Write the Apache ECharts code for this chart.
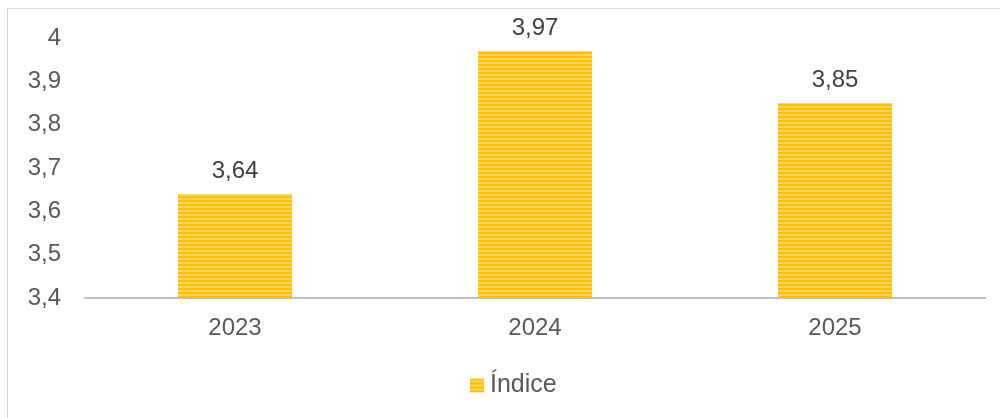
<!DOCTYPE html>
<html>
<head>
<meta charset="utf-8">
<script src="https://cdn.jsdelivr.net/npm/echarts@6/dist/echarts.min.js"></script>
<style>
  html, body { margin: 0; padding: 0; background: #fff; }
  #chart { width: 1000px; height: 418px; }
</style>
</head>
<body>
<div id="chart"></div>
<script>
// Yearly index values
const categories = ['2023', '2024', '2025'];
const indiceValues = [3.64, 3.97, 3.85];
const seriesName = 'Índice';
const yTickLabels = ['3,4', '3,5', '3,6', '3,7', '3,8', '3,9', '4'];

// Horizontal stripe fill for the bars
function stripePattern() {
  const c = document.createElement('canvas');
  c.width = 4; c.height = 4;
  const ctx = c.getContext('2d');
  ctx.fillStyle = '#FFD65A';
  ctx.fillRect(0, 0, 4, 4);
  ctx.fillStyle = '#FFC000';
  ctx.fillRect(0, 0, 4, 2);
  return c;
}
const barFill = { image: stripePattern(), repeat: 'repeat' };

const fmt = v => String(v).replace('.', ',');
const FONT = 'Liberation Sans, Arial, sans-serif';

const chart = echarts.init(document.getElementById('chart'), null, { renderer: 'canvas' });
chart.setOption({
  animation: false,
  textStyle: { fontFamily: FONT },
  graphic: [{
    type: 'rect',
    shape: { x: 7.5, y: 8.5, width: 1000, height: 420 },
    style: { fill: 'none', stroke: '#d9d9d9', lineWidth: 1 },
    silent: true
  }],
  grid: { left: 85, right: 15, top: 38, bottom: 120, containLabel: false },
  legend: {
    data: [{ name: seriesName, itemStyle: { color: barFill } }],
    left: 465,
    top: 368,
    itemWidth: 14,
    itemHeight: 14,
    itemGap: 6,
    icon: 'rect',
    textStyle: { fontSize: 25, color: '#595959', fontFamily: FONT, padding: [0, 0, 0, 1] }
  },
  xAxis: {
    type: 'category',
    data: categories,
    axisLine: { lineStyle: { color: '#bfbfbf', width: 2 } },
    axisTick: { show: false },
    axisLabel: { fontSize: 24, color: '#595959', margin: 18 }
  },
  yAxis: {
    type: 'value',
    min: 3.4,
    max: 4.0,
    interval: 0.1,
    axisLine: { show: false },
    axisTick: { show: false },
    splitLine: { show: false },
    axisLabel: {
      fontSize: 24,
      color: '#595959',
      margin: 24,
      formatter: (v) => {
        const i = Math.round((v - 3.4) / 0.1);
        return yTickLabels[i] !== undefined ? yTickLabels[i] : fmt(v);
      }
    }
  },
  series: [{
    name: seriesName,
    type: 'bar',
    data: indiceValues,
    barWidth: '38%',
    itemStyle: { color: barFill },
    label: {
      show: true,
      position: 'top',
      distance: 11,
      fontSize: 24,
      color: '#404040',
      formatter: p => fmt(p.value)
    }
  }]
});
</script>
</body>
</html>
